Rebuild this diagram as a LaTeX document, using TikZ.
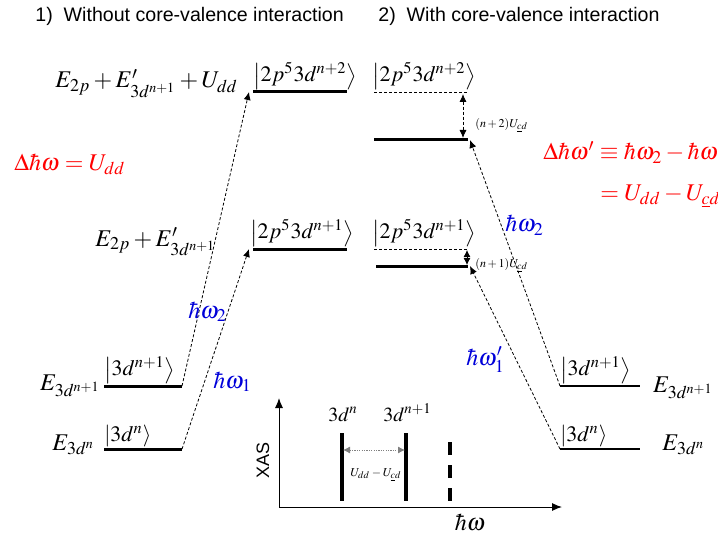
\documentclass[tikz,border=0pt]{standalone}
\usepackage{mathptmx}
\usepackage{fontspec}
\setsansfont{Liberation Sans}
\usepackage{xcolor}
\usetikzlibrary{arrows.meta, positioning}
\tikzset{
    myarrow/.style={-{Latex[length=4pt,width=3.5pt]}},
    level/.style={line width=1.5pt},
    thinlevel/.style={line width=0.6pt},
    ghostlevel/.style={line width=0.4pt, dash pattern=on 1.5pt off 1pt},
    jump/.style={myarrow, line width=0.4pt, dash pattern=on 1.5pt off 1pt},
    ket/.style={font=\fontsize{11}{13}\selectfont, inner sep=0pt, anchor=south west},
    elabel/.style={font=\fontsize{12}{14}\selectfont, inner sep=0pt, anchor=base west},
    photon/.style={elabel, text=blue!85!black},
    shiftlabel/.style={elabel, text=red},
    smalllabel/.style={font=\fontsize{6}{7}\selectfont, inner sep=0pt, anchor=base west},
    title/.style={font=\sffamily\fontsize{9.8}{11}\selectfont, inner sep=0pt, anchor=base west},
    bar/.style={line width=2pt}
}

\begin{document}
\begin{tikzpicture}[x=0.5pt, y=-0.5pt]
    \useasboundingbox (0,0) rectangle (718,535);

    \node (t1) [title] at (35,22) {1)\ \ Without core-valence interaction};
    \node (t2) [title] at (378,22) {2)\ \ With core-valence interaction};

    % case 1: levels
    \coordinate (a0L) at (104,449); \coordinate (a0R) at (182,449);
    \coordinate (a1L) at (104,386); \coordinate (a1R) at (182,386);
    \coordinate (b1L) at (253,249); \coordinate (b1R) at (347,249);
    \coordinate (b2L) at (253,92);  \coordinate (b2R) at (347,92);
    \draw [level] (a0L) -- (a0R);
    \draw [level] (a1L) -- (a1R);
    \draw [level] (b1L) -- (b1R);
    \draw [level] (b2L) -- (b2R);

    \node (ka0) [ket] at (104,447) {$\left|3d^{n}\right\rangle$};
    \node (ka1) [ket] at (104,384) {$\left|3d^{n+1}\right\rangle$};
    \node (kb1) [ket] at (250,247) {$\left|2p^{5}3d^{n+1}\right\rangle$};
    \node (kb2) [ket] at (253,90) {$\left|2p^{5}3d^{n+2}\right\rangle$};

    \node (ea0) [elabel] at (52,450) {$E_{3d^{n}}$};
    \node (ea1) [elabel, anchor=base east] at (101,390) {$E_{3d^{n+1}}$};
    \node (eb1) [elabel] at (95,246) {$E_{2p}+E'_{3d^{n+1}}$};
    \node (eb2) [elabel] at (55,88) {$E_{2p}+E'_{3d^{n+1}}+U_{dd}$};

    \draw [jump] (a0R) -- ([xshift=-2pt]b1L);
    \draw [jump] (a1R) -- ([xshift=-2pt]b2L);
    \node (w1) [photon] at (213,388) {$\hbar\omega_{1}$};
    \node (w2) [photon] at (188,318) {$\hbar\omega_{2}$};
    \node (d1) [shiftlabel] at (14,170) {$\Delta\hbar\omega=U_{dd}$};

    % case 2: levels
    \coordinate (e0L) at (560,449); \coordinate (e0R) at (640,449);
    \coordinate (e1L) at (560,386); \coordinate (e1R) at (640,386);
    \coordinate (c1L) at (374,249); \coordinate (c1R) at (468,249);
    \coordinate (d1L) at (376,266); \coordinate (d1R) at (468,266);
    \coordinate (c2L) at (374,92);  \coordinate (c2R) at (468,92);
    \coordinate (d2L) at (374,140); \coordinate (d2R) at (468,140);
    \draw [thinlevel] (e0L) -- (e0R);
    \draw [thinlevel] (e1L) -- (e1R);
    \draw [ghostlevel] (c1L) -- (c1R);
    \draw [level] (d1L) -- (d1R);
    \draw [ghostlevel] (c2L) -- (c2R);
    \draw [level] (d2L) -- (d2R);

    \node (ke0) [ket] at (560,447) {$\left|3d^{n}\right\rangle$};
    \node (ke1) [ket] at (560,384) {$\left|3d^{n+1}\right\rangle$};
    \node (kc1) [ket] at (372,247) {$\left|2p^{5}3d^{n+1}\right\rangle$};
    \node (kc2) [ket] at (372,90) {$\left|2p^{5}3d^{n+2}\right\rangle$};

    \node (ee0) [elabel] at (662,450) {$E_{3d^{n}}$};
    \node (ee1) [elabel, anchor=base east] at (714,392) {$E_{3d^{n+1}}$};

    \coordinate (u2t) at (463,94);  \coordinate (u2b) at (463,138);
    \coordinate (u1t) at (467,250); \coordinate (u1b) at (467,265);
    \draw [jump, {Latex[length=4pt,width=3.5pt]}-{Latex[length=4pt,width=3.5pt]}] (u2t) -- (u2b);
    \draw [{Latex[length=3.5pt,width=3.5pt]}-{Latex[length=3.5pt,width=3.5pt]}, line width=0.4pt] (u1t) -- (u1b);
    \node (s2) [smalllabel] at (475,127) {$(n+2)U_{\underline{c}d}$};
    \node (s1) [smalllabel] at (475,267) {$(n+1)U_{\underline{c}d}$};

    \draw [jump] (e0L) -- ([xshift=1pt]d1R);
    \draw [jump] (e1L) -- ([xshift=1pt]d2R);
    \node (w1p) [photon] at (466,365) {$\hbar\omega'_{1}$};
    \node (w2p) [photon] at (505,232) {$\hbar\omega_{2}$};
    \node (d2a) [shiftlabel] at (543,160) {$\Delta\hbar\omega'\equiv\hbar\omega_{2}-\hbar\omega_{1}$};
    \node (d2b) [shiftlabel] at (600,200) {$=U_{dd}-U_{\underline{c}d}$};

    % XAS inset
    \coordinate (o) at (279,507);
    \coordinate (ytop) at (279,398);
    \coordinate (xend) at (562,507);
    \draw [-{Latex[length=5pt,width=4pt]}, line width=0.5pt] (o) -- (ytop);
    \draw [-{Latex[length=5pt,width=4pt]}, line width=0.5pt] (o) -- (xend);
    \node (xas) [font=\sffamily\fontsize{9}{10}\selectfont, rotate=90] at (263,460) {XAS};
    \node (hw) [font=\fontsize{12}{14}\selectfont, inner sep=0pt, anchor=base] at (470,530) {$\hbar\omega$};

    \coordinate (p0t) at (342,433); \coordinate (p0b) at (342,501);
    \coordinate (p1t) at (406,433); \coordinate (p1b) at (406,501);
    \coordinate (p2t) at (450,442); \coordinate (p2b) at (450,501);
    \draw [bar] (p0t) -- (p0b);
    \draw [bar] (p1t) -- (p1b);
    \draw [bar, dash pattern=on 6.5pt off 5pt] (p2t) -- (p2b);
    \node (l0) [elabel, font=\fontsize{10}{12}\selectfont] at (328,421) {$3d^{n}$};
    \node (l1) [elabel, font=\fontsize{10}{12}\selectfont] at (383,421) {$3d^{n+1}$};

    \coordinate (g0) at (343,450); \coordinate (g1) at (405,450);
    \draw [{Latex[length=3.5pt,width=3.5pt]}-{Latex[length=3.5pt,width=3.5pt]}, gray, line width=0.4pt, dash pattern=on 0.6pt off 0.6pt] (g0) -- (g1);
    \node (gap) [smalllabel] at (350,476) {$U_{dd}-U_{\underline{c}d}$};
\end{tikzpicture}
\end{document}
